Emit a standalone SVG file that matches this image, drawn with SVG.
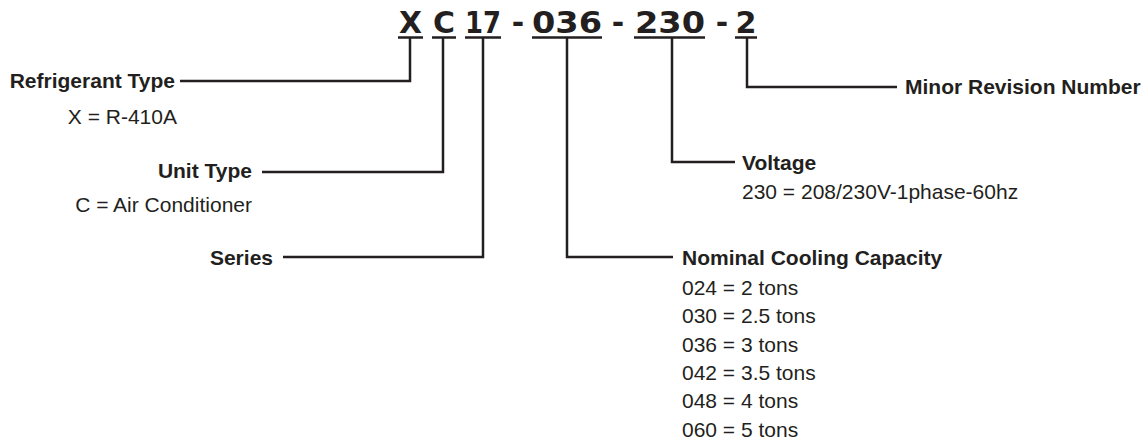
<svg xmlns="http://www.w3.org/2000/svg" width="1148" height="440" viewBox="0 0 1148 440">
<style>
.code{font-family:"DejaVu Sans","Liberation Sans",sans-serif;font-weight:bold;font-size:30px;fill:#231f20;text-anchor:middle}
.lbl{font-family:"Liberation Sans",Arial,sans-serif;font-weight:bold;font-size:21px;fill:#231f20}
.txt{font-family:"Liberation Sans",Arial,sans-serif;font-size:21px;fill:#231f20}
.end{text-anchor:end}
.ln{fill:none;stroke:#231f20;stroke-width:2.5}
</style>
<rect width="1148" height="440" fill="#ffffff"/>
<g id="code">
<text class="code" x="410.5" y="33" textLength="23" lengthAdjust="spacingAndGlyphs">X</text>
<text class="code" x="444" y="33" textLength="22" lengthAdjust="spacingAndGlyphs">C</text>
<text class="code" x="483" y="33" textLength="36" lengthAdjust="spacingAndGlyphs">17</text>
<text class="code" x="518" y="33">-</text>
<text class="code" x="567" y="33" textLength="70" lengthAdjust="spacingAndGlyphs">036</text>
<text class="code" x="618" y="33">-</text>
<text class="code" x="670" y="33" textLength="70" lengthAdjust="spacingAndGlyphs">230</text>
<text class="code" x="722" y="33">-</text>
<text class="code" x="746" y="33" textLength="21" lengthAdjust="spacingAndGlyphs">2</text>
</g>
<g id="connectors">
<path class="ln" d="M398 37.5H423M432 37.5H456M465 37.5H501M532 37.5H602M634 37.5H705M735 37.5H757"/>
<path class="ln" d="M410 37.5V81H180"/>
<path class="ln" d="M443 37.5V172H262"/>
<path class="ln" d="M483 37.5V257H283"/>
<path class="ln" d="M567 37.5V257H673"/>
<path class="ln" d="M672 37.5V162H735"/>
<path class="ln" d="M747 37.5V87H897"/>
</g>
<g id="refrigerant">
<text class="lbl end" x="175" y="88">Refrigerant Type</text>
<text class="txt end" x="177" y="124">X = R-410A</text>
</g>
<g id="unit-type">
<text class="lbl end" x="252" y="178">Unit Type</text>
<text class="txt end" x="252" y="212">C = Air Conditioner</text>
</g>
<g id="series">
<text class="lbl end" x="273" y="265">Series</text>
</g>
<g id="capacity">
<text class="lbl" x="682" y="265">Nominal Cooling Capacity</text>
<text class="txt" x="682" y="295">024 = 2 tons</text>
<text class="txt" x="682" y="323.3">030 = 2.5 tons</text>
<text class="txt" x="682" y="351.6">036 = 3 tons</text>
<text class="txt" x="682" y="379.9">042 = 3.5 tons</text>
<text class="txt" x="682" y="408.2">048 = 4 tons</text>
<text class="txt" x="682" y="436.5">060 = 5 tons</text>
</g>
<g id="voltage">
<text class="lbl" x="742" y="170">Voltage</text>
<text class="txt" x="742" y="199">230 = 208/230V-1phase-60hz</text>
</g>
<g id="minor-revision">
<text class="lbl" x="905" y="94">Minor Revision Number</text>
</g>
</svg>
